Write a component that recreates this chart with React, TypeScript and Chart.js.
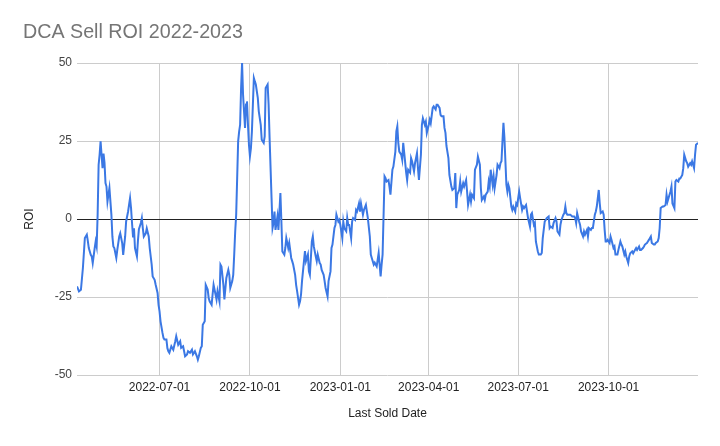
import React, { useEffect, useRef } from "react";
import { Chart, registerables } from "chart.js";

Chart.register(...registerables);

const TITLE = "DCA Sell ROI 2022-2023";
const X_TITLE = "Last Sold Date";
const Y_TITLE = "ROI";
const START_DATE = "2022-04-08";
const END_DATE = "2023-12-31";
const xTickLabels = ["2022-07-01", "2022-10-01", "2023-01-01", "2023-04-01", "2023-07-01", "2023-10-01"];
const yTickValues = [-50, -25, 0, 25, 50];

// days since START_DATE
const dayOffsets = [
  0, 2, 4, 6, 8, 10, 11, 12, 14, 15, 16, 18, 19, 20, 21, 22, 23, 24, 25, 26, 27, 28, 29, 30, 31, 32, 33, 35, 36, 37, 38, 40, 41, 43, 44, 46, 47, 49, 50, 52, 53, 54, 55, 56, 57, 58, 59, 61, 62, 63, 65, 66, 67, 68, 70, 71, 73, 74, 76, 77, 79, 80, 82, 83, 84, 85, 87, 88, 89, 91, 92, 93,
  94, 96, 98, 100, 101, 103, 105, 106, 108, 110, 112, 113, 115, 117, 118, 120, 122, 123, 124, 126, 127, 128, 130, 131, 133, 134, 135, 137, 138, 139, 141, 142, 143, 145, 146, 147, 149, 150, 152, 154, 155, 156, 158, 159,
  160, 161, 162, 163, 164, 165, 166, 167, 168, 169, 170, 171, 172, 173, 174, 175, 176, 177, 178, 179, 180, 181, 182, 184, 185, 187, 188, 190, 191, 192, 194, 195, 196,
  197, 198, 199, 200, 201, 202, 204, 205, 207, 208, 209, 211, 212, 213, 215, 216, 218, 219, 220, 222, 223, 224, 226, 227, 228, 229, 231, 232, 233, 235, 236, 237, 239, 240, 241, 243, 244, 245, 247, 248, 249, 251, 252, 253, 255, 256, 258, 259, 260, 262, 263, 264, 266, 267, 268, 270, 271, 272, 274, 275, 276, 277, 279, 280, 281, 283, 284, 285, 287, 288, 289, 291, 292, 294, 295, 296, 298,
  299, 300, 302, 303, 305, 307, 309, 310, 311, 313, 314, 315, 317, 318, 319, 321, 322, 324, 325, 326, 327, 328, 330, 331, 332, 333, 335, 336, 337, 339, 340, 341, 343, 344, 346, 347, 348, 350, 351, 352, 354, 355, 356, 358, 359, 360, 362, 363, 365, 366, 367, 369, 370, 371, 373, 374, 375, 376, 378, 379, 381, 382, 384, 385, 386, 387, 389, 390, 391, 393, 394, 396, 397, 398, 400,
  401, 402, 404, 405, 407, 408, 410, 411, 412, 414, 415, 416, 418, 419, 420, 421, 423, 424, 425, 427, 428, 430, 431, 432, 433, 434, 435, 437, 438, 439, 440, 442, 443, 444, 446, 447, 448, 450, 451, 453, 454, 455, 457, 458, 459, 461, 462, 463, 465, 466, 467, 469, 470, 472, 473, 474, 476, 477, 478, 480, 481, 482, 484, 485, 487, 488, 489, 491, 492, 493, 495, 496, 497, 498, 499, 501,
  502, 504, 506, 507, 508, 509, 511, 512, 513, 515, 516, 517, 519, 520, 521, 523, 524, 525, 527, 528, 529, 531, 532, 533, 535, 536, 537, 538, 539, 540, 542, 543, 544, 546, 547, 548, 550, 551, 553, 554, 555, 557, 558, 559, 561, 562, 563, 565, 566, 567, 569, 570, 572, 573, 574, 576, 577, 578, 580, 581, 582, 584, 585, 587, 588, 589, 591, 592, 593, 594, 596, 597, 599, 600, 601, 603, 604, 605, 606, 608, 609, 610, 612, 613, 614, 616, 617, 618, 620, 621, 622, 624, 625, 626, 628, 629, 630, 632,
];

const roi = [
  -21.6, -23.2, -22.7, -15.7, -6.1, -5.0, -7, -9.3, -11.5, -12, -14.1, -9.3, -7.2, -8.8, 1.4, 17.4, 20.6, 24.9, 20.6, 16.3, 21, 18, 11.5, 10.4, 5.6, 7.8, 9.9, 1.4, -5.6, -8.8, -9.3, -12.5, -9.9, -5.6, -4.6, -7.7, -11.5, -5.6, -0.8, 2.4, 4.6, 6.7, 3.5, -1.3, -5.6, -3, -9.3, -12, -7, -3.3, -1.3, 0.3, -3, -5.6, -4.6, -3, -5.6, -9.3, -14.6, -18.4, -19.5, -21, -23.7, -27.5, -29.6, -32.8, -36.5, -38.1, -38.6, -38.6, -41.4, -42.4,
  -42.9, -40.8, -41.9, -39.2, -37.6, -40.3, -39.2, -41.3, -40.8, -44, -43.4, -42.4, -42.9, -41.9, -43.4, -42.4, -44, -45.1, -44, -41.3, -40.8, -33.9, -32.8, -21.1, -22.6, -25.3, -26.4, -27.5, -24.2, -21.1, -24.2, -25.8, -23.1, -26.4, -14.6, -15.2, -21.1, -25.8, -18.9, -16.3, -17.9, -22.1, -19.9, -17.9,
  -11.4, -4, 1.4, 13.1, 24.9, 28, 30.2, 42, 50, 39.8, 34.5, 29.2, 36.7, 37.7, 30.2, 23.8, 20.1, 22.7, 28, 36.7, 45.2, 44.1, 43.1, 38.8, 34.5, 30.2, 25.4, 24.4, 26.5, 42, 43.1, 36.7, 26,
  16.3, 6.7, -2.9, -1.3, 2.4, -3.5, 0.8, -3.5, 8.3, -0.8, -10.4, -11.4, -9.3, -6.1, -9.3, -7.7, -12.5, -13.5, -14.6, -17.9, -21.1, -23.1, -27.5, -26.4, -24.2, -19.9, -13.5, -10.3, -13.5, -11.4, -16.8, -17.9, -7.2, -5.6, -8.8, -12, -13.5, -11.4, -14.1, -14.6, -16.3, -17.9, -19.9, -22.1, -24.8, -19.9, -16.8, -9.3, -8.2, -2.9, -1.9, 1.4, -0.8, -0.3, -1.9, -6.1, -0.8, -2.9, -3.9, 0.3, -1.9, -1.9, -6.1, -0.8, 0.3, -0.3, 2.9, 2.4, 5, 2.4, 5, 1.4, 2.9, 4.5, 2.4, 0.3, -5.6,
  -11.4, -12.5, -14.6, -14, -15.2, -10.9, -18.4, -14.6, -11.4, 13.7, 13.1, 12, 12.5, 10.4, 7.8, 15.8, 16.8, 21.6, 28.1, 29.7, 24.4, 21.6, 20.6, 19, 24.4, 21.3, 14.9, 12.5, 15.8, 14.9, 19.5, 18.5, 15.3, 17.9, 21.1, 16.3, 12.5, 20.6, 30.2, 32.3, 30.2, 31.2, 27.6, 30.2, 31.8, 30.7, 35.6, 36.1, 35.1, 36.6, 36.6, 35.6, 33.4, 32.9, 32.9, 29.2, 27.6, 23.4, 19.5, 14.1, 10.4, 9.3, 9.9, 14.7, 3.5, 7.8, 9.3, 12, 8.8, 11.5, 10.4, 12.5, 8.8, 4.5, 7.8,
  5.6, 7.8, 6.7, 15.8, 17.4, 20, 17.4, 9.9, 6.1, 7.2, 6.1, 7.8, 8.8, 12, 10.4, 15.8, 11, 13.6, 9.9, 14.1, 17.4, 16.3, 17.9, 18.5, 24.9, 30.8, 26, 11, 8.8, 11, 9.9, 4, 2.9, 4, 2.4, 5, 4.5, 8.8, 6.7, 2.9, 4, 3.5, 4.5, 2.4, 0.3, -2.4, 1.4, 1.9, -1.9, -1.3, -7.2, -10.4, -11.4, -11.4, -10.9, -6.1, -0.8, -0.3, 0.3, 0.8, -2.9, -2.4, -2.9, -1.3, 0.3, -0.8, -4, -5, -1.9, -0.3, 1.4, 1.9, 4, 1.9, 1.4, 1.4,
  1.4, 0.8, 0.8, 0.3, -1.3, 1.9, -0.8, -1.9, -4, -5.6, -4, -5, -3.5, -5.6, -2.9, -3.5, -2.9, -2.9, 1.4, 2.4, 4, 9.3, 5, 1.9, 2.4, 1.4, -3.5, -7.2, -7.2, -6.7, -7.7, -5.6, -6.7, -9.3, -8.8, -11.4, -11.4, -9.9, -7.2, -8.2, -8.8, -11.4, -10.4, -12, -14.1, -12, -11, -10.4, -11, -10.4, -9.3, -9.9, -8.8, -9.9, -9.9, -9.3, -8.8, -8.2, -7.7, -7.2, -6.7, -5.6, -7.7, -8.2, -8.2, -7.7, -7.2, -6.1, -2.9, 3.5, 4, 4, 4.5, 7.8, 5.6, 7.8, 8.8, 10.4, 5, 3.5, 12, 12.5, 12, 13, 13, 14.1, 16.3, 20.6, 18.5, 17.9, 16.8, 17.9, 17.4, 18.5, 16.3, 20.6, 23.8, 24.4,
];

const DAY_MS = 86400000;
const toUtc = (s: string) => {
  const [y, m, d] = s.split("-").map(Number);
  return Date.UTC(y, m - 1, d);
};
const dayOf = (s: string) => Math.round((toUtc(s) - toUtc(START_DATE)) / DAY_MS);
const tickDays = xTickLabels.map(dayOf);
const FONT = '"Liberation Sans", Arial, sans-serif';

const titlePlugin = {
  id: "sheetTitle",
  afterDraw(chart: any) {
    const ctx = chart.ctx;
    ctx.save();
    ctx.font = `19.7px ${FONT}`;
    ctx.fillStyle = "#757575";
    ctx.textAlign = "left";
    ctx.textBaseline = "alphabetic";
    ctx.fillText(TITLE, 23, 38);
    ctx.restore();
  },
};

export default function App() {
  const ref = useRef<HTMLCanvasElement | null>(null);
  useEffect(() => {
    if (!ref.current) return;
    const chart = new Chart(ref.current, {
      type: "line",
      data: {
        datasets: [
          {
            label: Y_TITLE,
            data: dayOffsets.map((d, i) => ({ x: d, y: roi[i] })),
            borderColor: "#3b78e4",
            borderWidth: 2,
            pointRadius: 0,
            tension: 0,
            fill: false,
          },
        ],
      },
      options: {
        animation: false,
        responsive: false,
        maintainAspectRatio: false,
        layout: { padding: { left: 18, right: 22, top: 63, bottom: 21 } },
        plugins: { legend: { display: false }, tooltip: { enabled: false }, title: { display: false } },
        scales: {
          x: {
            type: "linear",
            min: 0,
            max: dayOf(END_DATE),
            afterBuildTicks: (s: any) => {
              s.ticks = tickDays.map((v) => ({ value: v }));
            },
            afterFit: (s: any) => {
              s.height = 50;
            },
            ticks: {
              autoSkip: false,
              maxRotation: 0,
              padding: 5,
              color: "#222",
              font: { family: FONT, size: 12 },
              callback: (v: any) => {
                const i = tickDays.indexOf(Number(v));
                return i >= 0 ? xTickLabels[i] : "";
              },
            },
            grid: { color: "#cccccc", drawTicks: false },
            border: { display: false },
            title: { display: true, text: X_TITLE, color: "#222", font: { family: FONT, size: 12 } },
          },
          y: {
            min: -50,
            max: 50,
            afterBuildTicks: (s: any) => {
              s.ticks = yTickValues.map((v) => ({ value: v }));
            },
            afterFit: (s: any) => {
              s.width = 59;
            },
            ticks: {
              padding: 5,
              color: "#444",
              font: { family: FONT, size: 12 },
            },
            grid: {
              color: (c: any) => (c.tick && c.tick.value === 0 ? "#222" : "#cccccc"),
              drawTicks: false,
            },
            border: { display: false },
            title: { display: true, text: Y_TITLE, color: "#222", font: { family: FONT, size: 12 } },
          },
        },
      },
      plugins: [titlePlugin],
    });
    return () => chart.destroy();
  }, []);
  return (
    <div style={{ position: "absolute", left: 0, top: 0, width: 720, height: 446, background: "#fff" }}>
      <canvas ref={ref} width={720} height={446} style={{ display: "block" }} />
    </div>
  );
}
